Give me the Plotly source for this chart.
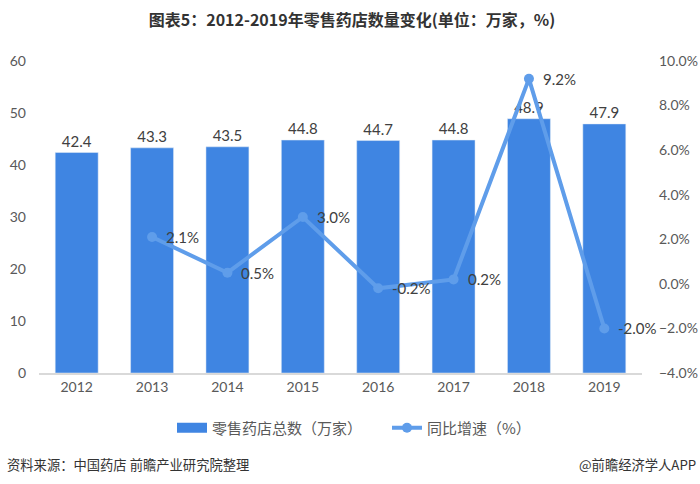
import plotly.graph_objects as go

years = ["2012", "2013", "2014", "2015", "2016", "2017", "2018", "2019"]
stores = [42.4, 43.3, 43.5, 44.8, 44.7, 44.8, 48.9, 47.9]
growth_years = ["2013", "2014", "2015", "2016", "2017", "2018", "2019"]
growth = [2.1, 0.5, 3.0, -0.2, 0.2, 9.2, -2.0]

bar_name = "零售药店总数（万家）"
line_name = "同比增速（%）"
title = "图表5：2012-2019年零售药店数量变化(单位：万家，%)"
source = "资料来源：中国药店 前瞻产业研究院整理"
brand = "@前瞻经济学人APP"

BAR_C = "#3F85E2"
LINE_C = "#5F9DEA"
TXT = "#595959"
FONT = "Lato, 'Noto Sans CJK SC', sans-serif"
CJK = "'Noto Sans CJK SC', sans-serif"

W, H = 700, 484
L, R, T, B = 39, 58, 61, 111
pw, ph = W - L - R, H - T - B

def px_x(x):
    return (x - L) / pw

def px_y(y):
    return (H - B - y) / ph

fig = go.Figure()
fig.add_trace(go.Bar(
    x=years, y=stores, name=bar_name, marker_color=BAR_C, showlegend=False,
    text=[f"{v:.1f}" for v in stores], textposition="outside",
    textfont=dict(family=FONT, size=15, color="#404040"), cliponaxis=False,
))
# legend swatch for bars
fig.add_trace(go.Scatter(
    x=[years[0]], y=[None], mode="lines", name=bar_name,
    line=dict(color=BAR_C, width=10), showlegend=True,
))
fig.add_trace(go.Scatter(
    x=growth_years, y=growth, name=line_name, yaxis="y2", mode="lines+markers",
    line=dict(color=LINE_C, width=4), marker=dict(color=LINE_C, size=10),
    cliponaxis=False,
))

# growth labels: category index positions (numeric-looking names would be read as indices)
annotations = [
    dict(text=f"{v:.1f}%", x=years.index(xv), y=v, xref="x", yref="y2", xanchor="left",
         yanchor="middle", xshift=12, showarrow=False,
         font=dict(family=FONT, size=15, color="#404040"))
    for xv, v in zip(growth_years, growth)
]
annotations += [
    dict(text=source, x=px_x(5), y=px_y(464), xref="paper", yref="paper",
         xanchor="left", yanchor="middle", showarrow=False,
         font=dict(family=CJK, size=13.3, color="#333333")),
    dict(text=brand, x=px_x(698), y=px_y(464), xref="paper", yref="paper",
         xanchor="right", yanchor="middle", showarrow=False,
         font=dict(family=CJK, size=13.3, color="#333333")),
]

fig.update_layout(
    width=W, height=H, margin=dict(l=L, r=R, t=T, b=B, autoexpand=False),
    paper_bgcolor="white", plot_bgcolor="white",
    bargap=0.43,
    title=dict(text=f"<b>{title}</b>", x=352 / W, xanchor="center", xref="container",
               y=1 - 20 / H, yanchor="middle", yref="container",
               font=dict(family=CJK, size=16, color="#333333")),
    xaxis=dict(type="category", categoryorder="array", categoryarray=years,
               range=[-0.5, len(years) - 0.5], automargin=False,
               showgrid=False, showline=True, linecolor="#D9D9D9", linewidth=1.5,
               ticks="", tickfont=dict(family=FONT, size=14, color=TXT)),
    yaxis=dict(range=[0, 60], dtick=10, showgrid=False, zeroline=False, showline=False,
               automargin=False,
               tickfont=dict(family=FONT, size=14, color=TXT), ticklabelstandoff=12),
    yaxis2=dict(range=[-4, 10], dtick=2, overlaying="y", side="right", showgrid=False,
                zeroline=False, showline=False, tickformat=".1f", ticksuffix="%",
                automargin=False,
                tickfont=dict(family=FONT, size=14, color=TXT), ticklabelstandoff=16),
    legend=dict(orientation="h", x=px_x(172), xanchor="left", y=px_y(428), yanchor="middle",
                font=dict(family=CJK, size=15, color=TXT), entrywidth=170,
                entrywidthmode="pixels", traceorder="normal"),
    annotations=annotations,
)

fig.write_html("out.html", config={"displayModeBar": False},
               post_script="document.body.style.margin='0';")
